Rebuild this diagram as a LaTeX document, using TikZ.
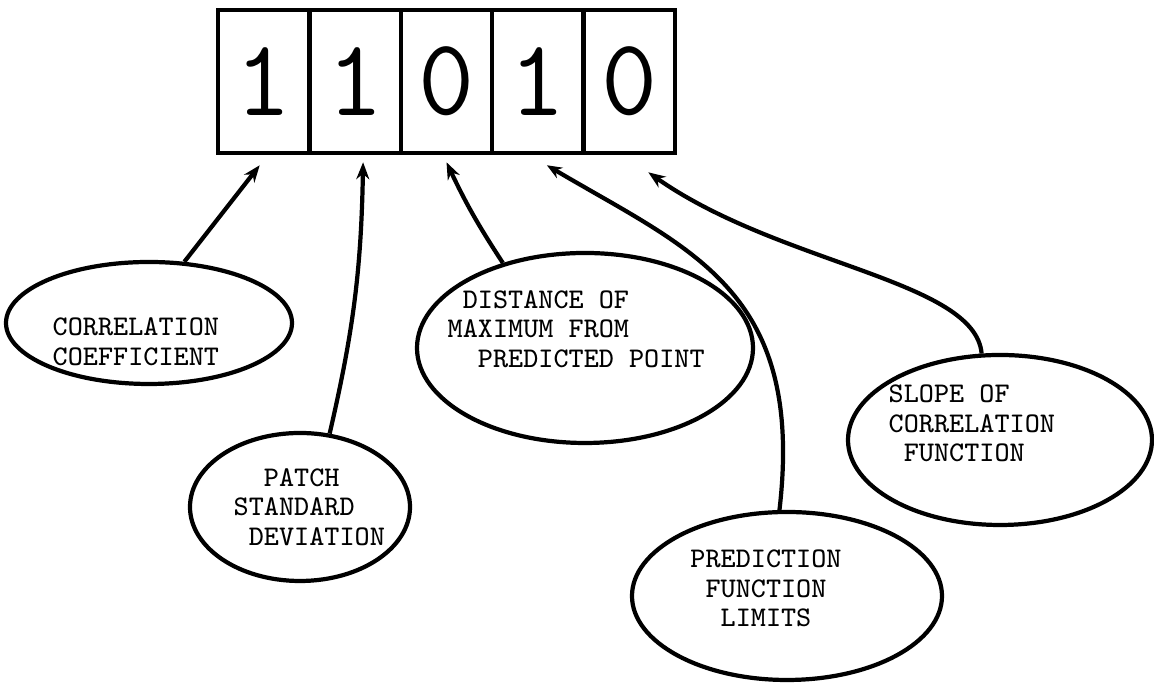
\documentclass[tikz,border=0pt]{standalone}
\usepackage{fontspec}
\usetikzlibrary{arrows.meta,calc,shapes.geometric}

\tikzset{
  bit/.style={draw, line width=1.3pt, minimum width=0.914cm, minimum height=1.43cm,
    inner sep=0pt, font=\fontsize{31}{31}\selectfont\ttfamily},
  oval/.style={draw, ellipse, line width=1.2pt, inner sep=0pt},
  tag/.style={inner sep=0pt, align=left, font=\fontsize{8.1}{8.4}\selectfont\ttfamily},
  feed/.style={line width=1.2pt, -{Stealth[length=0.17cm,width=0.13cm]}},
}

\begin{document}
\begin{tikzpicture}
    \useasboundingbox (0,0) rectangle (11.54,6.85);

    % the register
    \foreach \digit [count=\i] in {1,1,0,1,0}
        \node[bit] (c\i) at (1.723+0.914*\i,6.035) {\digit};

    % the ovals
    \node[oval, minimum width=2.86cm, minimum height=1.22cm] (corr) at (1.49,3.62) {};
    \node[oval, minimum width=2.20cm, minimum height=1.48cm] (patch) at (3.00,1.78) {};
    \node[oval, minimum width=3.36cm, minimum height=1.90cm] (dist) at (5.85,3.37) {};
    \node[oval, minimum width=3.10cm, minimum height=1.68cm] (pred) at (7.87,0.89) {};
    \node[oval, minimum width=3.04cm, minimum height=1.70cm] (slope) at (10.00,2.45) {};

    \node[tag, anchor=north west] (corrtxt) at (0.52,3.68) {CORRELATION\\COEFFICIENT};
    \node[tag, anchor=north west] (patchtxt) at (2.33,2.175)
        {\phantom{XX}PATCH\\STANDARD\\\phantom{X}DEVIATION};
    \node[tag, anchor=north west] (disttxt) at (4.47,3.955)
        {\phantom{X}DISTANCE OF\\MAXIMUM FROM\\\phantom{XX}PREDICTED POINT};
    \node[tag, align=center, anchor=north] (predtxt) at (7.66,1.355)
        {PREDICTION\\FUNCTION\\LIMITS};
    \node[tag, anchor=north west] (slopetxt) at (8.88,3.005)
        {SLOPE OF\\CORRELATION\\\phantom{X}FUNCTION};

    % pointers
    \draw[feed] (corr.60) -- ($(c1.south)+(-0.04,-0.10)$);
    \draw[feed] (patch.68) to[bend right=6] ($(c2.south)+(0.08,-0.07)$);
    \draw[feed] (dist.134) to[bend left=4] ($(c3.south)+(0,-0.07)$);
    \draw[line width=1.2pt, -{Stealth[open,length=0.15cm,width=0.12cm]}] (pred.95)
        .. controls (8.05,3.95) and (6.90,4.35) .. ($(c4.south)+(0.09,-0.10)$);
    \draw[feed] (slope.102)
        .. controls (9.75,4.05) and (7.80,4.20) .. ($(c5.south)+(0.19,-0.17)$);
\end{tikzpicture}
\end{document}
